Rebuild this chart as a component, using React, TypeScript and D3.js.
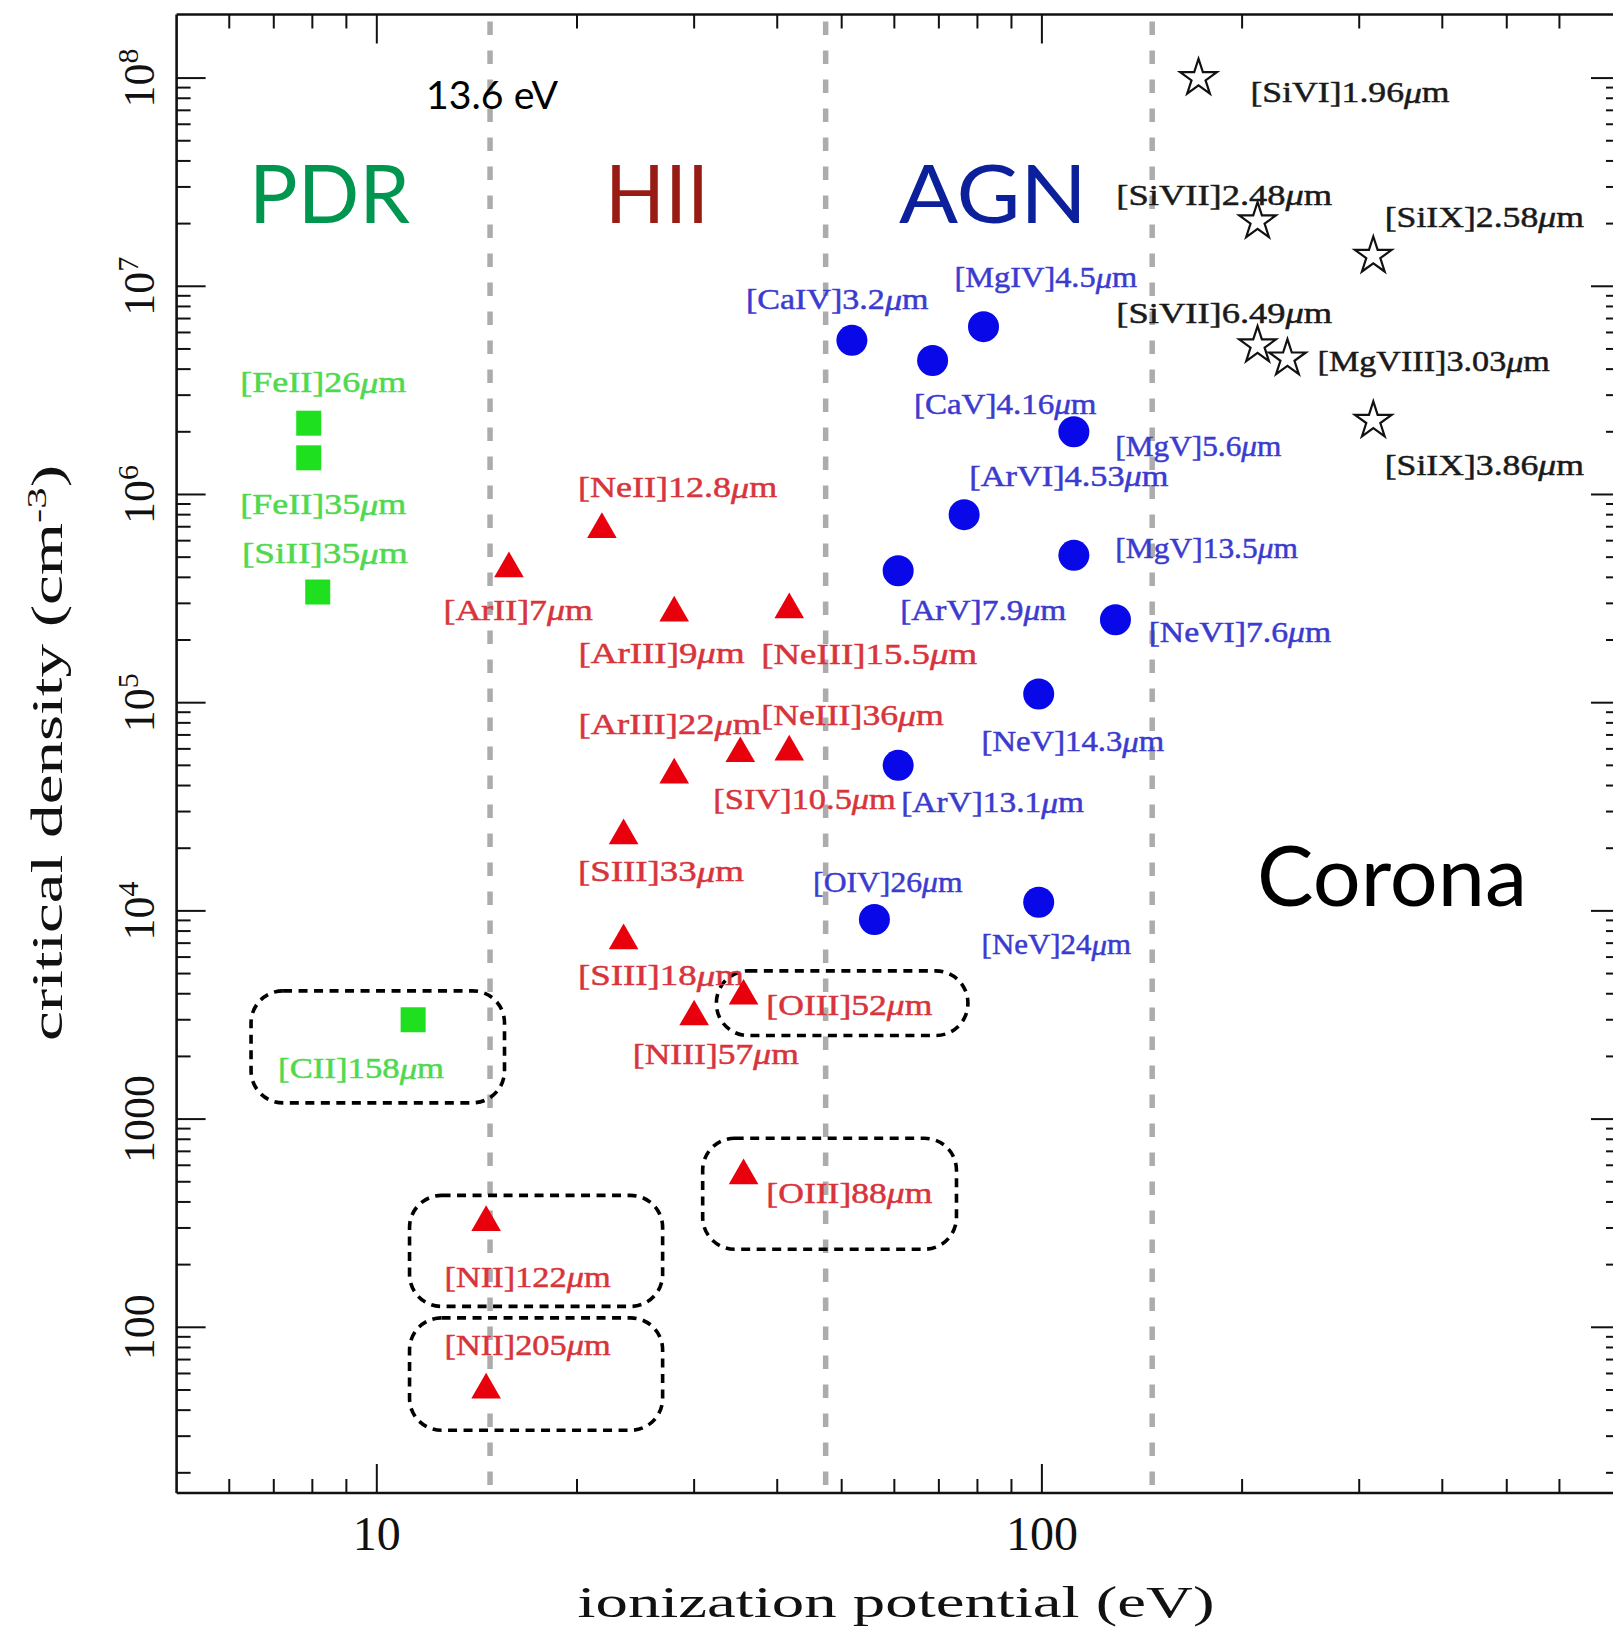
import React from "react";
import * as d3 from "d3";

// ---------- data ----------
const pdrNames = ["[FeII]26μm", "[FeII]35μm", "[SiII]35μm", "[CII]158μm"];
const pdrIP = [7.9, 7.9, 8.15, 11.34];
const pdrDensity = [2.2e6, 1.5e6, 3.4e5, 3.0e3];

const hiiNames = [
  "[ArII]7μm", "[NeII]12.8μm", "[ArIII]9μm", "[NeIII]15.5μm", "[ArIII]22μm",
  "[NeIII]36μm", "[SIV]10.5μm", "[SIII]33μm", "[SIII]18μm", "[NIII]57μm",
  "[OIII]52μm", "[OIII]88μm", "[NII]122μm", "[NII]205μm",
];
const hiiIP = [15.8, 21.8, 28.0, 41.7, 28.0, 41.7, 35.2, 23.5, 23.5, 30.0, 35.6, 35.6, 14.6, 14.6];
const hiiDensity = [4.4e5, 6.8e5, 2.7e5, 2.8e5, 4.5e4, 5.8e4, 5.7e4, 2.3e4, 7.2e3, 3.1e3, 3.9e3, 535, 319, 50];

const agnNames = [
  "[CaIV]3.2μm", "[MgIV]4.5μm", "[CaV]4.16μm", "[MgV]5.6μm", "[ArVI]4.53μm",
  "[MgV]13.5μm", "[ArV]7.9μm", "[NeVI]7.6μm", "[NeV]14.3μm", "[ArV]13.1μm",
  "[OIV]26μm", "[NeV]24μm",
];
const agnIP = [51.8, 81.7, 68.5, 111.7, 76.4, 111.7, 60.8, 129, 98.9, 60.8, 56.0, 98.9];
const agnDensity = [5.5e6, 6.4e6, 4.4e6, 2.0e6, 8.0e5, 5.1e5, 4.3e5, 2.5e5, 1.1e5, 5.0e4, 9.1e3, 1.1e4];

const coronaNames = ["[SiVI]1.96μm", "[SiVII]2.48μm", "[SiIX]2.58μm", "[SiVII]6.49μm", "[MgVIII]3.03μm", "[SiIX]3.86μm"];
const coronaIP = [172, 211, 315, 211, 234, 315];
const coronaDensity = [1.0e8, 2.05e7, 1.4e7, 5.2e6, 4.5e6, 2.26e6];

// boundaries (eV)
const boundaryIP = [14.8, 47.3, 146.5];

// highlighted lines (ip range, density range)
const boxIPLow = [6.47, 32.4, 30.9, 11.2, 11.2];
const boxIPHigh = [15.56, 77.4, 74.4, 26.9, 26.9];
const boxDensLow = [1197, 2520, 237, 126, 32];
const boxDensHigh = [4130, 5150, 809, 430, 111];

const xMajorTicks = [10, 100];
const yMajorTicks = [100, 1000, 1e4, 1e5, 1e6, 1e7, 1e8];
const yTickText = ["100", "1000", "10|4", "10|5", "10|6", "10|7", "10|8"];

const regionNames = ["PDR", "HII", "AGN", "Corona"];

// label placement offsets (px from marker)
const pdrLabelOffsets = [[-68.5, -41.5], [-68.5, 45.7], [-75.8, -39.5], [-135, 47.8]];
const hiiLabelOffsets = [
  [-65.4, 40.5], [-23.9, -42.6], [-95.6, 39.5], [-28, 43.6], [-95.6, -50.9],
  [-28, -37.4], [-27, 44.7], [-45.7, 35.3], [-45.7, 34.3], [-61.3, 36.4],
  [22.8, 8.3], [22.8, 16.6], [-41.5, 54], [-41.5, -45.7],
];
const agnLabelOffsets = [
  [-106, -41.5], [-29, -49.9], [-18.7, 42.6], [41.5, 13.5], [5.2, -39.5],
  [41.5, -8.3], [2, 38.4], [33.2, 11.4], [-57.1, 46.7], [3.1, 36.4],
  [-61.3, -38.4], [-57.1, 41.5],
];
const coronaLabelOffsets = [[51.9, 13.5], [-141.2, -27], [11.4, -39.5], [-141.2, -33.2], [30.1, 2.1], [11.4, 43.6]];

// ---------- layout ----------
const W = 1613;
const H = 1629;
const X_MIN = 5, X_MAX = 740;
const Y_MIN = 16, Y_MAX = 2.02e8;
const LEFT = 176.6, RIGHT = 1620, TOP = 14.5, BOTTOM = 1493;

const labelFont = "'Liberation Serif', 'DejaVu Serif', serif";
const sansFont = "Lato, 'Open Sans', 'Noto Sans', sans-serif";
const CHAR_W = 16.6;

function Label({ x, y, text, color }: { x: number; y: number; text: string; color: string }) {
  const parts = text.split("μ");
  const len = Array.from(text).length * CHAR_W;
  return (
    <text x={x} y={y} fill={color} stroke={color} strokeWidth={0.5} fontFamily={labelFont} fontSize={30}
      dominantBaseline="central" textLength={len} lengthAdjust="spacingAndGlyphs">
      {parts[0]}
      {parts.length > 1 ? <tspan fontStyle="italic">μ</tspan> : null}
      {parts.length > 1 ? parts[1] : null}
    </text>
  );
}

export default function App() {
  const x = d3.scaleLog().domain([X_MIN, X_MAX]).range([LEFT, RIGHT]);
  const y = d3.scaleLog().domain([Y_MIN, Y_MAX]).range([BOTTOM, TOP]);

  const xMinor: number[] = [];
  [1, 10, 100].forEach((dec) => {
    for (let k = 2; k <= 9; k++) {
      const v = k * dec;
      if (v > X_MIN && v <= 600) xMinor.push(v);
    }
  });
  const yMinor: number[] = [];
  [10, 100, 1e3, 1e4, 1e5, 1e6, 1e7].forEach((dec) => {
    for (let k = 2; k <= 9; k++) {
      const v = k * dec;
      if (v > Y_MIN && v < Y_MAX * 0.97) yMinor.push(v);
    }
  });

  const MAJ = 29, MIN = 14;
  const triangle = d3.symbol().type(d3.symbolTriangle).size(380)() as string;
  const star = d3.symbol().type(d3.symbolStar).size(420)() as string;

  const greenMarker = "#1ee01e";
  const redMarker = "#e8000d";
  const blueMarker = "#0808e8";
  const greenLabel = "#4fd94f";
  const redLabel = "#d8343c";
  const blueLabel = "#3b3bcf";

  return (
    <div style={{ position: "absolute", left: 0, top: 0 }}>
      <svg width={W} height={H} viewBox={`0 0 ${W} ${H}`} style={{ display: "block", background: "#fff" }}>
        <rect x={0} y={0} width={W} height={H} fill="#fff" />

        {/* boundary lines */}
        {boundaryIP.map((v, i) => (
          <line key={"b" + i} x1={x(v)} x2={x(v)} y1={TOP + 7} y2={BOTTOM} stroke="#acacac"
            strokeWidth={5.5} strokeDasharray="13.5 15.5" />
        ))}

        {/* highlight boxes */}
        {boxIPLow.map((v, i) => {
          const x0 = x(v), x1 = x(boxIPHigh[i]);
          const y0 = y(boxDensHigh[i]), y1 = y(boxDensLow[i]);
          return (
            <rect key={"box" + i} x={x0} y={y0} width={x1 - x0} height={y1 - y0} rx={32} ry={32}
              fill="none" stroke="#000" strokeWidth={3.6} strokeDasharray="9 6.5" />
          );
        })}

        {/* axes frame */}
        <line x1={LEFT} x2={W} y1={TOP} y2={TOP} stroke="#111" strokeWidth={2.6} />
        <line x1={LEFT} x2={W} y1={BOTTOM} y2={BOTTOM} stroke="#111" strokeWidth={2.6} />
        <line x1={LEFT} x2={LEFT} y1={TOP} y2={BOTTOM} stroke="#111" strokeWidth={2.6} />
        <line x1={RIGHT} x2={RIGHT} y1={TOP} y2={BOTTOM} stroke="#111" strokeWidth={2.6} />

        {/* x ticks */}
        {xMajorTicks.map((v) => (
          <g key={"xM" + v}>
            <line x1={x(v)} x2={x(v)} y1={BOTTOM} y2={BOTTOM - MAJ} stroke="#111" strokeWidth={2} />
            <line x1={x(v)} x2={x(v)} y1={TOP} y2={TOP + MAJ} stroke="#111" strokeWidth={2} />
            <text x={x(v)} y={1550} textAnchor="middle" fontFamily={labelFont} fontSize={48} fill="#111">
              {String(v)}
            </text>
          </g>
        ))}
        {xMinor.map((v) => (
          <g key={"xm" + v}>
            <line x1={x(v)} x2={x(v)} y1={BOTTOM} y2={BOTTOM - MIN} stroke="#111" strokeWidth={2} />
            <line x1={x(v)} x2={x(v)} y1={TOP} y2={TOP + MIN} stroke="#111" strokeWidth={2} />
          </g>
        ))}

        {/* y ticks */}
        {yMajorTicks.map((v, i) => {
          const parts = yTickText[i].split("|");
          return (
            <g key={"yM" + v}>
              <line x1={LEFT} x2={LEFT + MAJ} y1={y(v)} y2={y(v)} stroke="#111" strokeWidth={2} />
              <line x1={RIGHT} x2={RIGHT - MAJ} y1={y(v)} y2={y(v)} stroke="#111" strokeWidth={2} />
              <text transform={`translate(154,${y(v)}) rotate(-90)`} textAnchor="middle"
                fontFamily={labelFont} fontSize={44} fill="#111">
                {parts[0]}
                {parts.length > 1 ? <tspan dy={-16} fontSize={30}>{parts[1]}</tspan> : null}
              </text>
            </g>
          );
        })}
        {yMinor.map((v) => (
          <g key={"ym" + v}>
            <line x1={LEFT} x2={LEFT + MIN} y1={y(v)} y2={y(v)} stroke="#111" strokeWidth={2} />
            <line x1={RIGHT} x2={RIGHT - MIN} y1={y(v)} y2={y(v)} stroke="#111" strokeWidth={2} />
          </g>
        ))}

        {/* axis titles */}
        <text x={896} y={1617} textAnchor="middle" fontFamily={labelFont} fontSize={44} fill="#111"
          textLength={637} lengthAdjust="spacingAndGlyphs">
          ionization potential (eV)
        </text>
        <text transform={`translate(62,753) rotate(-90)`} textAnchor="middle" fontFamily={labelFont}
          fontSize={44} fill="#111" textLength={576} lengthAdjust="spacingAndGlyphs">
          critical density (cm<tspan dy={-16} fontSize={28}>-3</tspan><tspan dy={16}>)</tspan>
        </text>

        {/* region labels */}
        <text x={426} y={109} fontFamily={sansFont} fontSize={39} fill="#000" textLength={132}
          lengthAdjust="spacingAndGlyphs">13.6 eV</text>
        <text x={249} y={223} fontFamily={sansFont} fontSize={82} fill="#00964f" textLength={161}
          lengthAdjust="spacingAndGlyphs">{regionNames[0]}</text>
        <text x={605} y={223} fontFamily={sansFont} fontSize={82} fill="#981c14" textLength={104}
          lengthAdjust="spacingAndGlyphs">{regionNames[1]}</text>
        <text x={899} y={223} fontFamily={sansFont} fontSize={82} fill="#0b209a" textLength={188}
          lengthAdjust="spacingAndGlyphs">{regionNames[2]}</text>
        <text x={1257} y={906} fontFamily={sansFont} fontSize={83} fill="#000" textLength={270}
          lengthAdjust="spacingAndGlyphs">{regionNames[3]}</text>

        {/* PDR squares */}
        {pdrIP.map((v, i) => (
          <g key={"p" + i}>
            <rect x={x(v) - 12.5} y={y(pdrDensity[i]) - 12.5} width={25} height={25} fill={greenMarker} />
            <Label x={x(v) + pdrLabelOffsets[i][0]} y={y(pdrDensity[i]) + pdrLabelOffsets[i][1]}
              text={pdrNames[i]} color={greenLabel} />
          </g>
        ))}

        {/* HII triangles */}
        {hiiIP.map((v, i) => (
          <g key={"h" + i}>
            <path d={triangle} transform={`translate(${x(v)},${y(hiiDensity[i])})`} fill={redMarker} />
            <Label x={x(v) + hiiLabelOffsets[i][0]} y={y(hiiDensity[i]) + hiiLabelOffsets[i][1]}
              text={hiiNames[i]} color={redLabel} />
          </g>
        ))}

        {/* AGN circles */}
        {agnIP.map((v, i) => (
          <g key={"a" + i}>
            <circle cx={x(v)} cy={y(agnDensity[i])} r={15.5} fill={blueMarker} />
            <Label x={x(v) + agnLabelOffsets[i][0]} y={y(agnDensity[i]) + agnLabelOffsets[i][1]}
              text={agnNames[i]} color={blueLabel} />
          </g>
        ))}

        {/* Corona stars */}
        {coronaIP.map((v, i) => (
          <g key={"c" + i}>
            <path d={star} transform={`translate(${x(v)},${y(coronaDensity[i])})`} fill="#fff"
              stroke="#111" strokeWidth={2.2} />
            <Label x={x(v) + coronaLabelOffsets[i][0]} y={y(coronaDensity[i]) + coronaLabelOffsets[i][1]}
              text={coronaNames[i]} color="#1a1a1a" />
          </g>
        ))}
      </svg>
    </div>
  );
}
